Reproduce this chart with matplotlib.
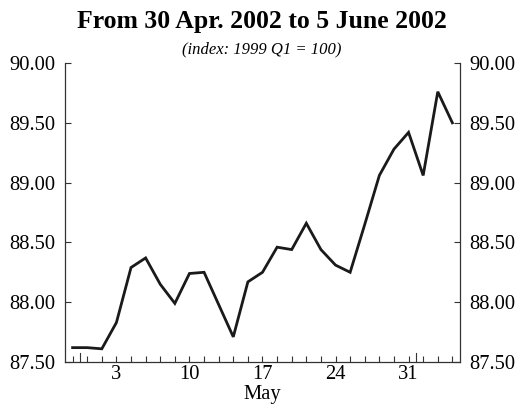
import matplotlib.pyplot as plt
import numpy as np

# business days from 30 Apr 2002 to 5 June 2002
days = [30, 1, 2, 3, 6, 7, 8, 9, 10, 13, 14, 15, 16, 17,
        20, 21, 22, 23, 24, 27, 28, 29, 30, 31, 3, 4, 5]
months = ['Apr'] + ['May'] * 23 + ['Jun'] * 3
index_values = [87.62, 87.62, 87.61, 87.83, 88.29, 88.37, 88.15, 87.99, 88.24,
                88.25, 87.98, 87.71, 88.17, 88.25, 88.46, 88.44, 88.66, 88.44,
                88.31, 88.25, 88.65, 89.06, 89.28, 89.42, 89.06, 89.76, 89.50]
labelled_days = [3, 10, 17, 24, 31]
y_ticks = [87.5, 88.0, 88.5, 89.0, 89.5, 90.0]

plt.rcParams['font.family'] = ['Liberation Serif', 'DejaVu Serif']

x = np.arange(len(index_values))

fig = plt.figure(figsize=(5.23, 4.04), dpi=100)
ax = fig.add_axes([0.1243, 0.104, 0.7552, 0.740])
ax.plot(x, index_values, color='#1a1a1a', lw=2.0, solid_joinstyle='miter')

ax.set_xlim(-0.52, len(x) - 0.48)
ax.set_ylim(87.5, 90.0)

# major (labelled) ticks on Fridays, minor tick every business day
major_pos = [i for i, d in enumerate(days) if months[i] == 'May' and d in labelled_days]
ax.set_xticks(major_pos)
ax.set_xticklabels([str(days[i]) for i in major_pos])
ax.set_xticks(x, minor=True)
ax.tick_params(axis='x', which='both', direction='in', length=4, width=0.8,
               labelsize=14.8, pad=2, color='#333333')

# month separators
for i in range(1, len(x)):
    if months[i] != months[i - 1]:
        ax.axvline(i - 0.5, ymin=0, ymax=0.03, color='#333333', lw=0.8)

ax.set_yticks(y_ticks)
ax.set_yticklabels(['%.2f' % v for v in y_ticks])
ax.tick_params(axis='y', which='both', direction='in', length=4, width=0.8,
               labelsize=14.8, pad=7, left=True, right=True, labelleft=True,
               labelright=True, color='#333333')

ax.spines['top'].set_visible(False)
for s in ['left', 'right', 'bottom']:
    ax.spines[s].set_color('#333333')
    ax.spines[s].set_linewidth(0.9)

ax.text(major_pos[2], -0.078, 'May', transform=ax.get_xaxis_transform(),
        ha='center', va='top', fontsize=14.8)

fig.text(0.5, 0.931, 'From 30 Apr. 2002 to 5 June 2002', ha='center', va='baseline',
         fontsize=18.5, fontweight='bold')
fig.text(0.5, 0.869, '(index: 1999 Q1 = 100)', ha='center', va='baseline',
         fontsize=12, style='italic')

fig.savefig('out.png', dpi=100)
